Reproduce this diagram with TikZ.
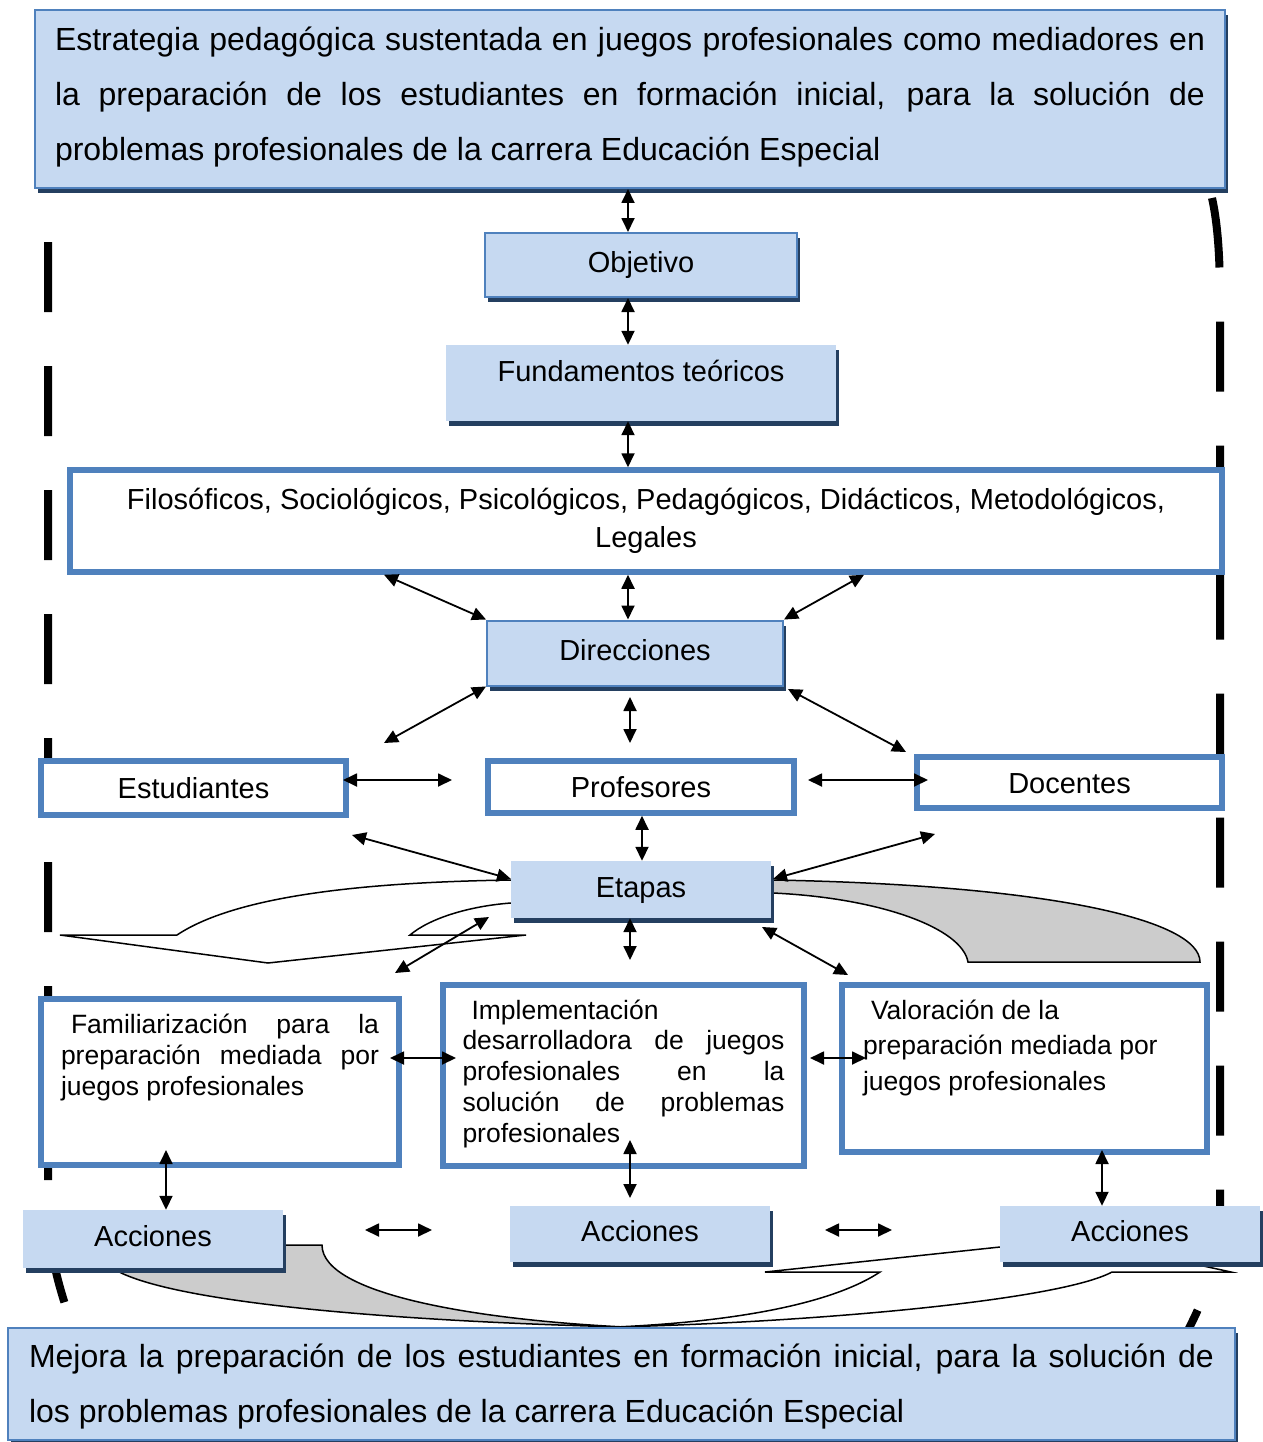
\documentclass[tikz,border=0pt]{standalone}
\usepackage{fontspec}
\setmainfont{Liberation Sans}
\usetikzlibrary{arrows.meta,shadows}
\hyphenpenalty=10000 \exhyphenpenalty=10000 \tolerance=10000 \hbadness=10000
\definecolor{lb}{HTML}{C6D9F1}
\definecolor{bd}{HTML}{4F81BD}
\definecolor{shd}{HTML}{243F60}
\definecolor{grayfill}{HTML}{CCCCCC}
\begin{document}
\begin{tikzpicture}[x=1pt,y=-1pt,
  blueshadow/.style={drop shadow={shadow xshift=3pt,shadow yshift=-5pt,fill=shd,opacity=1}},
  bluebox/.style={rectangle, fill=lb, draw=bd, line width=2pt, blueshadow, inner sep=0pt},
  plainblue/.style={rectangle, fill=lb, draw=none, blueshadow, inner sep=0pt},
  whitebox/.style={rectangle, fill=white, draw=bd, line width=5.5pt, inner sep=0pt},
  biarrow/.style={{Triangle[length=14pt,width=13pt]}-{Triangle[length=14pt,width=13pt]}, line width=1.8pt},
  dashline/.style={line width=8pt, dash pattern=on 70pt off 54pt},
  curvedshape/.style={line width=1.5pt, draw=black},
  ftext/.style={font=\fontsize{29}{36}\selectfont},
  oneblue/.style={ftext, text height=21pt, text depth=6pt},
  onewhite/.style={ftext, text height=21pt, text depth=0pt},
]
\path[fill=white, use as bounding box] (0,0) rectangle (1262,1442);

% dashed outline
\draw[dashline] (48,242) -- (48,1200) .. controls (48,1250) and (58,1285) .. (72,1325);
\draw[dashline] (1212,198) .. controls (1218,225) and (1220,260) .. (1220,300) -- (1220,1215) .. controls (1220,1255) and (1208,1295) .. (1180,1345);

% curved block arrows
\draw[curvedshape, fill=white] (530,880) -- (511,880) .. controls (380,882) and (240,893) .. (177,935) -- (60,935) -- (268,963) -- (526,935) -- (410,935) .. controls (430,918) and (470,906) .. (511,903) -- (530,903) -- cycle;
\draw[curvedshape, fill=grayfill] (760,880) -- (773,880) .. controls (1050,885) and (1200,920) .. (1200,962) -- (968,962) .. controls (962,928) and (880,898) .. (773,893) -- (760,893) -- cycle;
\draw[curvedshape, fill=grayfill] (270,1245) -- (322,1245) .. controls (322,1295) and (480,1320) .. (625,1327) .. controls (420,1322) and (170,1305) .. (112,1268) -- (112,1250) -- cycle;
\draw[curvedshape, fill=white] (1010,1247) -- (1000,1247) -- (765,1272) -- (880,1272) .. controls (830,1305) and (730,1322) .. (615,1327) .. controls (820,1322) and (1060,1300) .. (1112,1272) -- (1231,1272) -- (1185,1262) -- (1010,1262) -- cycle;

% boxes
\node[bluebox, minimum width=1190pt, minimum height=178pt, font=\fontsize{32}{55}\selectfont] (top) at (630,99)
 {\parbox[c][144pt][t]{1150pt}{Estrategia pedagógica sustentada en juegos profesionales como mediadores en\linebreak la preparación de los estudiantes en formación inicial, para la solución de\linebreak problemas profesionales de la carrera Educación Especial}};
\node[bluebox, minimum width=312pt, minimum height=64pt, oneblue] (obj) at (641,265) {Objetivo};
\node[plainblue, minimum width=390pt, minimum height=76pt, ftext, text height=21pt, text depth=25pt] (fund) at (641,383) {Fundamentos teóricos};
\node[whitebox, minimum width=1152pt, minimum height=102pt, align=center, font=\fontsize{29}{38}\selectfont] (fil) at (646,521)
 {Filosóficos, Sociológicos, Psicológicos, Pedagógicos, Didácticos, Metodológicos,\\Legales};
\node[bluebox, minimum width=296pt, minimum height=65pt, oneblue] (dir) at (635,653) {Direcciones};
\node[whitebox, minimum width=305pt, minimum height=54pt, onewhite] (est) at (193.5,788) {Estudiantes};
\node[whitebox, minimum width=306pt, minimum height=52pt, onewhite] (prof) at (641,787) {Profesores};
\node[whitebox, minimum width=305pt, minimum height=51pt, onewhite] (doc) at (1069.5,782.5) {Docentes};
\node[plainblue, minimum width=260pt, minimum height=57pt, oneblue] (eta) at (641,889.5) {Etapas};
\node[whitebox, minimum width=358pt, minimum height=166pt, font=\fontsize{26.5}{31}\selectfont] (fam) at (220,1082)
 {\parbox[c][137pt][t]{318pt}{\hspace*{10pt}Familiarización para la\linebreak preparación mediada por\linebreak juegos profesionales}};
\node[whitebox, minimum width=361pt, minimum height=181pt, font=\fontsize{26.5}{30.75}\selectfont] (imp) at (623.5,1075.5)
 {\parbox[c][152pt][t]{322pt}{\hspace*{9pt}Implementación\\desarrolladora de juegos\linebreak profesionales en la\linebreak solución de problemas\linebreak profesionales}};
\node[whitebox, minimum width=365pt, minimum height=167pt, font=\fontsize{26.5}{35.5}\selectfont] (val) at (1024.5,1068.5)
 {\hspace*{7pt}\parbox[c][138pt][t]{330pt}{\raggedright\hspace*{8pt}Valoración de la\\preparación mediada por\\juegos profesionales}};
\node[plainblue, minimum width=260pt, minimum height=58pt, oneblue] (acc1) at (153,1239) {Acciones};
\node[plainblue, minimum width=260pt, minimum height=56pt, oneblue] (acc2) at (640,1234) {Acciones};
\node[plainblue, minimum width=260pt, minimum height=56pt, oneblue] (acc3) at (1130,1234) {Acciones};
\node[bluebox, minimum width=1227pt, minimum height=112pt, font=\fontsize{32}{55}\selectfont] (bot) at (621.5,1384)
 {\parbox[c][80pt][t]{1185pt}{Mejora la preparación de los estudiantes en formación inicial, para la solución de\linebreak los problemas profesionales de la carrera Educación Especial}};

% connector coordinates
\coordinate (ax) at (628,0);
\coordinate (x384) at (384,0);
\coordinate (x864) at (864,0);
\coordinate (x642) at (642,0);
\coordinate (x630) at (630,0);
\coordinate (x166) at (166,0);
\coordinate (x1102) at (1102,0);
\coordinate (dl) at (384,743);
\coordinate (dm1) at (630,697);
\coordinate (dm2) at (630,743);
\coordinate (dr1) at (788,689);
\coordinate (dr2) at (906,752);
\coordinate (ep1) at (343,780);
\coordinate (ep2) at (452,780);
\coordinate (pd1) at (808,780);
\coordinate (pd2) at (928,780);
\coordinate (le1) at (352,835);
\coordinate (le2) at (511,879);
\coordinate (re1) at (935,834);
\coordinate (re2) at (773,879);
\coordinate (cr1) at (489,917);
\coordinate (cr2) at (395,973);
\coordinate (ed) at (630,960);
\coordinate (ev1) at (762,927);
\coordinate (ev2) at (848,975);
\coordinate (fi1) at (390,1058);
\coordinate (fi2) at (456,1058);
\coordinate (iv1) at (810,1058);
\coordinate (iv2) at (866,1058);
\coordinate (fa) at (166,1150);
\coordinate (ia1) at (630,1140);
\coordinate (ia2) at (630,1198);
\coordinate (va) at (1102,1150);
\coordinate (aa1) at (365,1230);
\coordinate (aa2) at (432,1230);
\coordinate (ab1) at (825,1230);
\coordinate (ab2) at (892,1230);

% connectors
\draw[biarrow] (top.south -| ax) -- (obj.north -| ax);
\draw[biarrow] (obj.south -| ax) -- (fund.north -| ax);
\draw[biarrow] (fund.south -| ax) -- (fil.north -| ax);
\draw[biarrow] (fil.south -| x384) -- (dir.north west);
\draw[biarrow] (fil.south -| ax) -- (dir.north -| ax);
\draw[biarrow] (fil.south -| x864) -- (dir.north east);
\draw[biarrow] (dir.south west) -- (dl);
\draw[biarrow] (dm1) -- (dm2);
\draw[biarrow] (dr1) -- (dr2);
\draw[biarrow] (ep1) -- (ep2);
\draw[biarrow] (pd1) -- (pd2);
\draw[biarrow] (le1) -- (le2);
\draw[biarrow] (prof.south -| x642) -- (eta.north -| x642);
\draw[biarrow] (re1) -- (re2);
\draw[biarrow] (cr1) -- (cr2);
\draw[biarrow] (eta.south -| x630) -- (ed);
\draw[biarrow] (ev1) -- (ev2);
\draw[biarrow] (fi1) -- (fi2);
\draw[biarrow] (iv1) -- (iv2);
\draw[biarrow] (fa) -- (acc1.north -| x166);
\draw[biarrow] (ia1) -- (ia2);
\draw[biarrow] (va) -- (acc3.north -| x1102);
\draw[biarrow] (aa1) -- (aa2);
\draw[biarrow] (ab1) -- (ab2);
\end{tikzpicture}
\end{document}
